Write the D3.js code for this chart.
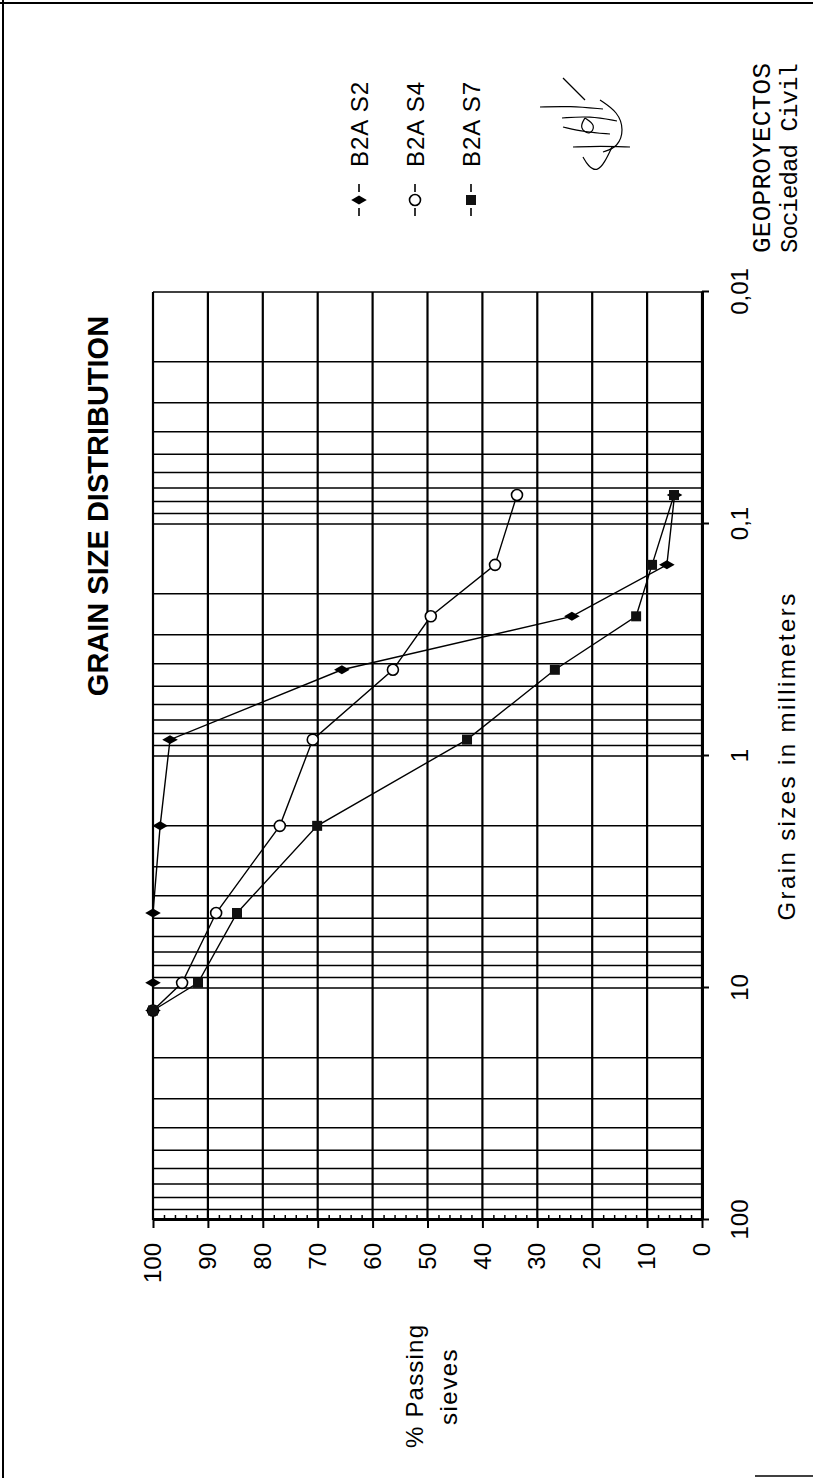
<!DOCTYPE html>
<html>
<head>
<meta charset="utf-8">
<script src="https://cdn.jsdelivr.net/npm/d3@7"></script>
<style>
body { margin: 0; background: #fff; }
</style>
</head>
<body>
<div id="chart"></div>
<script>
// sieve openings (mm) and % passing per sample
var sieves = [12.5, 9.5, 4.75, 2.0, 0.85, 0.425, 0.25, 0.15, 0.075];
var s2 = [100, 100, 100, 98.7, 96.9, 65.6, 23.7, 6.4, 5.0];
var s4 = [100, 94.7, 88.5, 76.9, 70.9, 56.3, 49.4, 37.7, 33.7];
var s7 = [100, 91.8, 84.7, 70.1, 42.8, 26.8, 12.0, 9.1, 5.1];
var seriesNames = ["B2A S2", "B2A S4", "B2A S7"];
var percentTicks = [0, 10, 20, 30, 40, 50, 60, 70, 80, 90, 100];
var sizeTicks = [100, 10, 1, 0.1, 0.01];
var sizeTickLabels = ["100", "10", "1", "0,1", "0,01"];

function main() {
    var W = 813, H = 1478;
    var font = "'Liberation Sans', Arial, sans-serif";

    var svg = d3.select("#chart").append("svg")
        .attr("width", W).attr("height", H);
    svg.append("rect").attr("width", W).attr("height", H).attr("fill", "#fff");

    // page frame (scan border)
    svg.append("line").attr("x1", 3).attr("x2", 3).attr("y1", 0).attr("y2", H)
        .attr("stroke", "#000").attr("stroke-width", 2);
    svg.append("line").attr("x1", 0).attr("x2", W).attr("y1", 3).attr("y2", 3)
        .attr("stroke", "#000").attr("stroke-width", 2);
    svg.append("line").attr("x1", 755).attr("x2", W).attr("y1", 1476).attr("y2", 1476)
        .attr("stroke", "#000").attr("stroke-width", 1.5);

    // signature (page coordinates)
    var sig = [
        [[563, 78], [585, 100]],
        [[540, 107], [570, 106], [603, 109]],
        [[600, 100], [618, 112], [624, 130], [618, 147], [603, 152]],
        [[562, 118], [590, 116], [617, 121]],
        [[563, 127], [585, 132], [610, 134]],
        [[573, 147], [600, 146], [630, 147]],
        [[612, 147], [605, 162], [597, 172], [588, 166], [583, 157]],
        [[585, 118], [596, 125], [590, 136], [579, 128], [585, 118]]
    ];
    svg.append("g").selectAll("path")
        .data(sig)
        .join("path")
        .attr("d", d3.line().curve(d3.curveBasis))
        .attr("fill", "none")
        .attr("stroke", "#000")
        .attr("stroke-width", 1.2);

    // the whole chart is drawn landscape and turned a quarter left
    var g = svg.append("g")
        .attr("transform", "translate(0," + H + ") rotate(-90)");

    var x = d3.scaleLog().domain([100, 0.01]).range([258, 1186]);
    var y = d3.scaleLinear().domain([0, 100]).range([702, 153]);

    // grid
    g.append("g").selectAll("line")
        .data(x.ticks())
        .join("line")
        .attr("x1", d => x(d)).attr("x2", d => x(d))
        .attr("y1", y(0)).attr("y2", y(100))
        .attr("stroke", "#000").attr("stroke-width", 1.5);

    g.append("g").selectAll("line")
        .data(percentTicks)
        .join("line")
        .attr("x1", x(100)).attr("x2", x(0.01))
        .attr("y1", d => y(d)).attr("y2", d => y(d))
        .attr("stroke", "#000").attr("stroke-width", 2.2);

    // percent axis
    var yAxis = g.append("g")
        .attr("transform", "translate(" + x(100) + ",0)")
        .call(d3.axisLeft(y).tickValues(percentTicks).tickSize(8).tickPadding(15).tickSizeOuter(0));
    yAxis.select(".domain").attr("stroke-width", 3);
    yAxis.selectAll(".tick line").attr("stroke-width", 2);
    yAxis.selectAll("text").attr("font-size", 24).attr("font-family", font).attr("fill", "#000");

    var minor = percentTicks.slice(0, -1).flatMap(d => [d + 2, d + 4, d + 6, d + 8]);
    g.append("g")
        .attr("transform", "translate(" + x(100) + ",0)")
        .call(d3.axisRight(y).tickValues(minor).tickSize(5).tickFormat("").tickSizeOuter(0))
        .call(a => a.select(".domain").remove())
        .selectAll(".tick line").attr("stroke-width", 1.5);

    // grain size axis
    var xAxis = g.append("g")
        .attr("transform", "translate(0," + y(0) + ")")
        .call(d3.axisBottom(x).tickValues(sizeTicks)
            .tickFormat((d, i) => sizeTickLabels[i])
            .tickSize(7).tickPadding(22).tickSizeOuter(0));
    xAxis.select(".domain").attr("stroke-width", 3);
    xAxis.selectAll(".tick line").attr("stroke-width", 2);
    xAxis.selectAll("text").attr("font-size", 24).attr("font-family", font).attr("fill", "#000");

    // titles
    g.append("text")
        .attr("x", 972).attr("y", 108)
        .attr("text-anchor", "middle")
        .attr("font-family", font).attr("font-weight", "bold").attr("font-size", 29)
        .text("GRAIN SIZE DISTRIBUTION");

    g.append("text")
        .attr("x", (x(100) + x(0.01)) / 2).attr("y", 795)
        .attr("text-anchor", "middle")
        .attr("font-family", font).attr("font-size", 24).attr("letter-spacing", 2.4)
        .text("Grain sizes in millimeters");

    g.append("text")
        .attr("x", 30).attr("y", 423)
        .attr("font-family", font).attr("font-size", 24).attr("letter-spacing", 1.2)
        .text("% Passing");
    g.append("text")
        .attr("x", 53).attr("y", 457)
        .attr("font-family", font).attr("font-size", 24).attr("letter-spacing", 1.5)
        .text("sieves");

    // series
    var series = [s2, s4, s7];
    var line = d3.line()
        .x((d, i) => x(sieves[i]))
        .y(d => y(d));

    g.append("g").selectAll("path")
        .data(series)
        .join("path")
        .attr("d", line)
        .attr("fill", "none")
        .attr("stroke", "#000")
        .attr("stroke-width", 1.4);

    function marker(sel, k) {
        if (k === 0) {
            sel.append("path").attr("d", d3.symbol(d3.symbolDiamond, 70)())
                .attr("fill", "#000");
        } else if (k === 1) {
            sel.append("circle").attr("r", 5.5)
                .attr("fill", "#fff").attr("stroke", "#000").attr("stroke-width", 1.6);
        } else {
            sel.append("rect").attr("x", -5).attr("y", -5).attr("width", 10).attr("height", 10)
                .attr("fill", "#111");
        }
    }

    series.forEach(function (vals, k) {
        g.append("g").selectAll("g")
            .data(vals)
            .join("g")
            .attr("transform", (d, i) => "translate(" + x(sieves[i]) + "," + y(d) + ")")
            .each(function () { marker(d3.select(this), k); });
    });

    // legend
    var legendRows = [359, 415, 471];
    seriesNames.forEach(function (name, k) {
        var lg = g.append("g").attr("transform", "translate(1278," + legendRows[k] + ")");
        [[-16, -8], [8, 16]].forEach(function (s) {
            lg.append("line").attr("x1", s[0]).attr("x2", s[1])
                .attr("stroke", "#000").attr("stroke-width", 1.6);
        });
        marker(lg, k);
        lg.append("text")
            .attr("x", 33).attr("y", 9)
            .attr("font-family", font).attr("font-size", 24).attr("letter-spacing", 1)
            .text(name);
    });

    // company stamp
    g.append("text")
        .attr("x", 1225).attr("y", 770)
        .attr("font-family", "'Liberation Mono', 'Courier New', monospace")
        .attr("font-size", 26)
        .attr("textLength", 190).attr("lengthAdjust", "spacing")
        .text("GEOPROYECTOS");
    g.append("text")
        .attr("x", 1225).attr("y", 797)
        .attr("font-family", "'Liberation Mono', 'Courier New', monospace")
        .attr("font-size", 24)
        .attr("textLength", 190).attr("lengthAdjust", "spacing")
        .text("Sociedad  Civil");
}

main();
</script>
</body>
</html>
